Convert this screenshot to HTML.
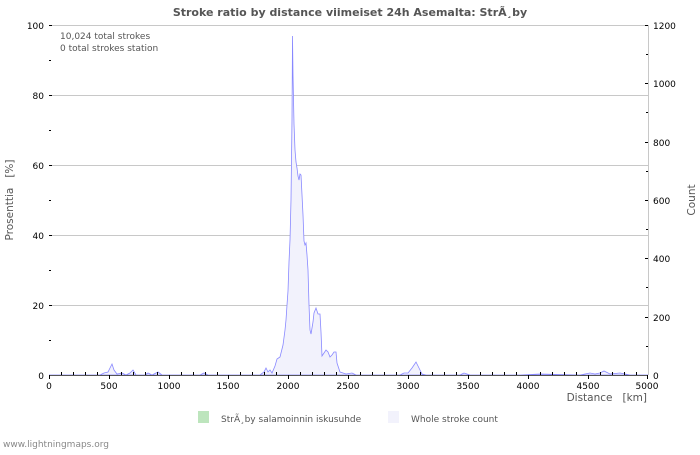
<!DOCTYPE html>
<html><head><meta charset="utf-8"><style>
body{margin:0;background:#fff;}
svg text{font-family:"DejaVu Sans","Liberation Sans",sans-serif;white-space:pre;}
</style></head><body>
<svg width="700" height="450" viewBox="0 0 700 450" xmlns="http://www.w3.org/2000/svg">
<rect width="700" height="450" fill="#fff"/>
<text x="350" y="16" text-anchor="middle" font-size="11" font-weight="bold" fill="#555">Stroke ratio by distance viimeiset 24h Asemalta: StrÃ¸by</text>
<g stroke="#c8c8c8" stroke-width="1">
<line x1="49" y1="25.5" x2="648" y2="25.5"/>
<line x1="49" y1="95.5" x2="648" y2="95.5"/>
<line x1="49" y1="165.5" x2="648" y2="165.5"/>
<line x1="49" y1="235.5" x2="648" y2="235.5"/>
<line x1="49" y1="305.5" x2="648" y2="305.5"/>
<line x1="648.5" y1="25" x2="648.5" y2="375"/>
</g>
<polygon fill="#f2f2fc" stroke="#8888ff" stroke-width="0.8" points="49,375 100,375 104,373 108,372 110,368 112,364 114,370 117,374 122,373 126,375 130,373 133,370 136,375 145,375 148,373 152,375 158,372 162,375 200,375 204,373 208,375 260,375 264,372 266,368 268,372 270,370 272,373 275,366 277,359 280,357 283,345 285,330 286,320 287,305 288,291 289,262 290,240 291,200 292,120 292.5,36 293,75 294,124 295,150 296,162 297,168 298,176 299,180 300,174 301,175 302,195 303,215 304,241 305,245 306,243 307,255 308,270 309,305 310,330 311,334 313,322 314,313 316,308 318,314 320,314 321,332 322,356 324,353 326,350 328,352 330,357 332,355 334,352 336,352 337,363 340,372 346,374 352,373 356,375 400,375 404,373 408,373 412,368 416,362 419,368 422,374 426,375 460,375 464,373 470,375 520,375 540,374 580,375 590,373 595,374 600,373 604,371 610,374 620,373 630,375 648,375"/>
<line x1="49" y1="375.5" x2="648" y2="375.5" stroke="#555" stroke-width="1"/>
<g stroke="#000" stroke-width="1">
<path d="M49.5,375V379M109.5,375V379M169.5,375V379M228.5,375V379M288.5,375V379M348.5,375V379M408.5,375V379M468.5,375V379M528.5,375V379M588.5,375V379M647.5,375V379"/>
<path d="M61.5,375V372M73.5,375V372M85.5,375V372M97.5,375V372M121.5,375V372M133.5,375V372M145.5,375V372M157.5,375V372M181.5,375V372M193.5,375V372M205.5,375V372M217.5,375V372M240.5,375V372M252.5,375V372M264.5,375V372M276.5,375V372M300.5,375V372M312.5,375V372M324.5,375V372M336.5,375V372M360.5,375V372M372.5,375V372M384.5,375V372M396.5,375V372M420.5,375V372M432.5,375V372M444.5,375V372M456.5,375V372M480.5,375V372M492.5,375V372M504.5,375V372M516.5,375V372M540.5,375V372M552.5,375V372M564.5,375V372M576.5,375V372M600.5,375V372M612.5,375V372M624.5,375V372M636.5,375V372"/>
<path d="M49,25.5H52M49,95.5H52M49,165.5H52M49,235.5H52M49,305.5H52M49,60.5H51M49,130.5H51M49,200.5H51M49,270.5H51M49,340.5H51"/>
<path d="M648,25.5H645M648,83.5H645M648,142.5H645M648,200.5H645M648,258.5H645M648,317.5H645M648,54.5H646M648,112.5H646M648,171.5H646M648,229.5H646M648,287.5H646M648,346.5H646"/>
</g>
<g font-size="9" fill="#000" text-anchor="end">
<text x="44" y="29">100</text><text x="44" y="99">80</text><text x="44" y="169">60</text><text x="44" y="239">40</text><text x="44" y="309">20</text><text x="44" y="379">0</text>
</g>
<g font-size="9" fill="#000" text-anchor="start">
<text x="653" y="29">1200</text><text x="653" y="87">1000</text><text x="653" y="146">800</text><text x="653" y="204">600</text><text x="653" y="262">400</text><text x="653" y="321">200</text><text x="653" y="379">0</text>
</g>
<g font-size="9" fill="#000" text-anchor="middle">
<text x="49" y="389">0</text><text x="109" y="389">500</text><text x="169" y="389">1000</text><text x="228" y="389">1500</text><text x="288" y="389">2000</text><text x="348" y="389">2500</text><text x="408" y="389">3000</text><text x="468" y="389">3500</text><text x="528" y="389">4000</text><text x="588" y="389">4500</text><text x="647" y="389">5000</text>
</g>
<text x="647" y="401" text-anchor="end" font-size="10.5" fill="#555">Distance   [km]</text>
<text transform="translate(13,200) rotate(-90)" text-anchor="middle" font-size="10.5" fill="#555">Prosenttia   [%]</text>
<text transform="translate(695,200) rotate(-90)" text-anchor="middle" font-size="10.5" fill="#555">Count</text>
<text x="60" y="39" font-size="9" fill="#555">10,024 total strokes</text>
<text x="60" y="51" font-size="9" fill="#555">0 total strokes station</text>
<rect x="198" y="411" width="11" height="12" fill="#bde5bd"/>
<text x="221" y="422" font-size="9" fill="#555">StrÃ¸by salamoinnin iskusuhde</text>
<rect x="388" y="411" width="11" height="12" fill="#f2f2fc"/>
<text x="411" y="422" font-size="9" fill="#555">Whole stroke count</text>
<text x="3" y="447" font-size="9" fill="#888">www.lightningmaps.org</text>
</svg>
</body></html>
